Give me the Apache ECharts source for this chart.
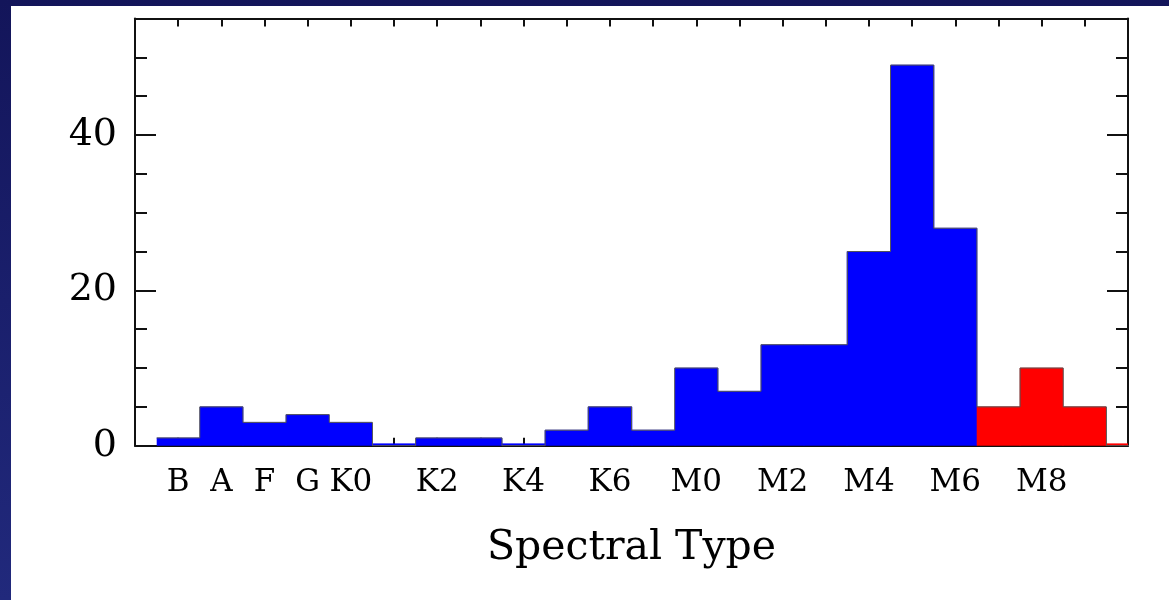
<!DOCTYPE html>
<html>
<head>
<meta charset="utf-8">
<script src="https://cdn.jsdelivr.net/npm/echarts@6/dist/echarts.min.js"></script>
<style>
  html, body { margin: 0; padding: 0; width: 1169px; height: 600px; overflow: hidden;
    background: linear-gradient(to bottom, #13155a 0%, #1a1f6c 50%, #21297c 100%); }
  #panel { position: absolute; left: 11px; top: 6px; right: 0; bottom: 0; background: #ffffff; }
  #chart { position: absolute; left: 0; top: 0; width: 1169px; height: 600px; }
</style>
</head>
<body>
<div id="panel"></div>
<div id="chart"></div>
<script>
// Spectral type bins (one per subtype step)
const binNames = ['B','A','F','G','K0','K1','K2','K3','K4','K5','K6','K7','M0','M1','M2','M3','M4','M5','M6','M7','M8','M9','L0'];
// Tick labels shown under each bin ('' = not labelled)
const tickLabels = ['B','A','F','G','K0','','K2','','K4','','K6','','M0','','M2','','M4','','M6','','M8','',''];
// Counts, blue group (B .. M6)
const blueCounts = [1,5,3,4,3,0,1,1,0,2,5,2,10,7,13,13,25,49,28];
// Counts, red group (M7 .. L0)
const redCounts = [5,10,5,0];
const yTickLabels = [0,20,40];

const FONT = 'DejaVu Serif';

const blueData = blueCounts.map((v, i) => [i, v]);
const redData = redCounts.map((v, i) => [blueCounts.length + i, v]);
const outline = [];
blueData.concat(redData).forEach(([x, v]) => { outline.push([x - 0.5, v]); outline.push([x + 0.5, v]); });

function renderBin(params, api) {
  const x = api.value(0), y = api.value(1);
  const p0 = api.coord([x - 0.5, y]);
  const p1 = api.coord([x + 0.5, 0]);
  const x0 = Math.round(p0[0]), x1 = Math.round(p1[0]);
  let top = p0[1], h = p1[1] - p0[1];
  if (h < 2) { h = 2; top = p1[1] - 2; }
  const cs = params.coordSys;
  const r = echarts.graphic.clipRectByRect(
    { x: x0, y: top, width: x1 - x0, height: h },
    { x: cs.x, y: cs.y, width: cs.width, height: cs.height });
  if (!r) return null;
  const c = api.visual('color');
  return { type: 'rect', shape: r, style: { fill: c, stroke: c, lineWidth: 0.6 } };
}

const chart = echarts.init(document.getElementById('chart'), null, { renderer: 'canvas' });
const lineCol = '#111111';
const baseY = { type: 'value', min: 0, max: 55, splitLine: { show: false } };
const baseX = { type: 'value', min: -1, max: 22, interval: 1, splitLine: { show: false } };

chart.setOption({
  backgroundColor: 'transparent',
  animation: false,
  grid: { left: 135, top: 18.5, right: 41, bottom: 154.3, containLabel: false },
  xAxis: [
    Object.assign({}, baseX, {
      position: 'bottom',
      axisLine: { show: true, onZero: false, lineStyle: { color: lineCol, width: 2 } },
      axisTick: { show: true, inside: true, length: 8, lineStyle: { color: lineCol, width: 2 } },
      axisLabel: {
        show: true, margin: 22, fontFamily: FONT, fontSize: 31, color: '#000',
        showMinLabel: true, showMaxLabel: true, hideOverlap: false,
        formatter: v => (v >= 0 && v < tickLabels.length) ? tickLabels[v] : ''
      },
      name: 'Spectral Type', nameLocation: 'middle', nameGap: 82,
      nameTextStyle: { fontFamily: FONT, fontSize: 41, color: '#000' }
    }),
    Object.assign({}, baseX, {
      position: 'top',
      axisLine: { show: true, onZero: false, lineStyle: { color: lineCol, width: 2 } },
      axisTick: { show: true, inside: true, length: 8, lineStyle: { color: lineCol, width: 2 } },
      axisLabel: { show: false }
    })
  ],
  yAxis: [
    Object.assign({}, baseY, {
      position: 'left', interval: 20,
      axisLine: { show: true, onZero: false, lineStyle: { color: lineCol, width: 2 } },
      axisTick: { show: true, inside: true, length: 21, lineStyle: { color: lineCol, width: 2 } },
      axisLabel: {
        show: true, margin: 18, fontFamily: FONT, fontSize: 38, color: '#000',
        formatter: v => yTickLabels.indexOf(v) >= 0 ? String(v) : ''
      }
    }),
    Object.assign({}, baseY, {
      position: 'left', interval: 5,
      axisLine: { show: false, onZero: false },
      axisTick: { show: true, inside: true, length: 12, lineStyle: { color: lineCol, width: 2 } },
      axisLabel: { show: false }
    }),
    Object.assign({}, baseY, {
      position: 'right', interval: 20,
      axisLine: { show: true, onZero: false, lineStyle: { color: lineCol, width: 2 } },
      axisTick: { show: true, inside: true, length: 21, lineStyle: { color: lineCol, width: 2 } },
      axisLabel: { show: false }
    }),
    Object.assign({}, baseY, {
      position: 'right', interval: 5,
      axisLine: { show: false, onZero: false },
      axisTick: { show: true, inside: true, length: 12, lineStyle: { color: lineCol, width: 2 } },
      axisLabel: { show: false }
    })
  ],
  series: [
    { type: 'custom', name: 'blue', xAxisIndex: 0, yAxisIndex: 0, clip: true, z: 5,
      itemStyle: { color: '#0000ff' }, renderItem: renderBin, data: blueData },
    { type: 'custom', name: 'red', xAxisIndex: 0, yAxisIndex: 0, clip: true, z: 5,
      itemStyle: { color: '#ff0000' }, renderItem: renderBin, data: redData },
    { type: 'line', name: 'outline', xAxisIndex: 0, yAxisIndex: 0, clip: true, z: 6,
      showSymbol: false, symbol: 'none', silent: true,
      lineStyle: { color: '#555555', width: 1 }, data: outline }
  ]
});
</script>
</body>
</html>
